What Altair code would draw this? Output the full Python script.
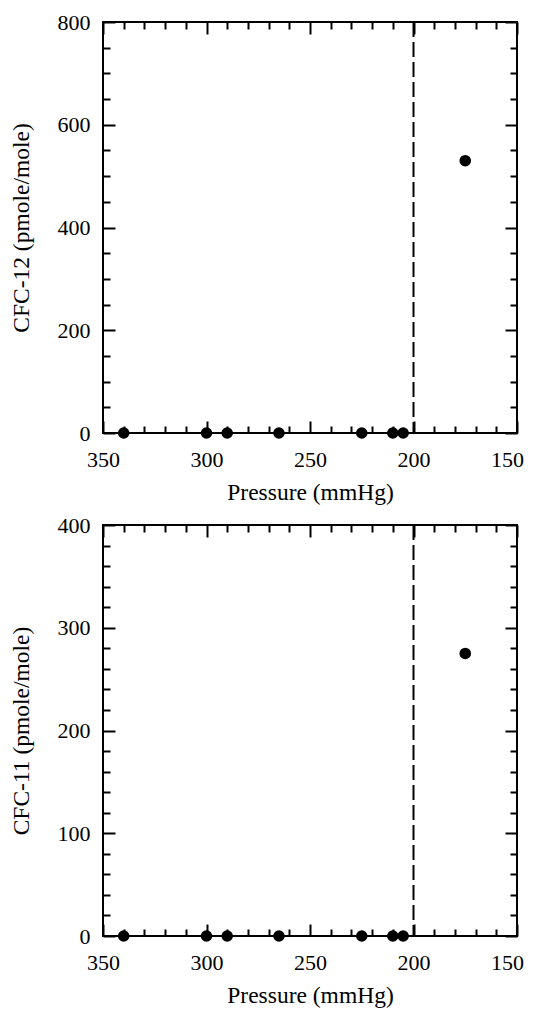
import altair as alt
import pandas as pd

# ---- data ----
pressure = [340, 300, 290, 265, 225, 210, 205, 175]
cfc12 = [0, 0, 0, 0, 0, 0, 0, 530]
cfc11 = [0, 0, 0, 0, 0, 0, 0, 275]
boundary = [200]

x_tick_values = list(range(150, 351, 10))
x_label_values = [350, 300, 250, 200, 150]
y12_tick_values = list(range(0, 801, 50))
y12_label_values = [0, 200, 400, 600, 800]
y11_tick_values = list(range(0, 401, 20))
y11_label_values = [0, 100, 200, 300, 400]

W, H = 414, 411
FONT = "Liberation Serif"


def tick_size(major_every):
    return {"condition": {"test": f"datum.value % {major_every} === 0", "value": 12}, "value": 7}


def panel(values, ylabel, ydomain, ytick_vals, ylabel_vals, ymajor):
    df = pd.DataFrame({"p": pressure, "v": values})
    xs = alt.Scale(domain=[150, 350], reverse=True, nice=False, zero=False, padding=0)
    ys = alt.Scale(domain=ydomain, nice=False, zero=False, padding=0)
    base = alt.Chart(df)

    tick_axis = dict(labels=False, domain=False, grid=False, tickWidth=2, tickColor="black")

    ghost_a = base.mark_circle(opacity=0).encode(
        x=alt.X("p:Q", scale=xs, title=None,
                axis=alt.Axis(orient="top", offset=-H, values=x_tick_values,
                              tickSize=tick_size(50), **tick_axis)),
        y=alt.Y("v:Q", scale=ys, title=None,
                axis=alt.Axis(orient="right", offset=-W, values=ytick_vals,
                              tickSize=tick_size(ymajor), **tick_axis)),
    )
    ghost_b = base.mark_circle(opacity=0).encode(
        x=alt.X("p:Q", scale=xs, title=None,
                axis=alt.Axis(orient="bottom", offset=-H, values=x_tick_values,
                              tickSize=tick_size(50), **tick_axis)),
        y=alt.Y("v:Q", scale=ys, title=None,
                axis=alt.Axis(orient="left", offset=-W, values=ytick_vals,
                              tickSize=tick_size(ymajor), **tick_axis)),
    )
    rule = alt.Chart(pd.DataFrame({"b": boundary})).mark_rule(
        strokeDash=[15, 5], strokeWidth=2, color="black"
    ).encode(x=alt.X("b:Q", scale=xs, axis=None))

    pts = base.mark_circle(size=135, color="black", opacity=1).encode(
        x=alt.X("p:Q", scale=xs, title="Pressure (mmHg)",
                axis=alt.Axis(orient="bottom", values=x_label_values, ticks=False,
                              domain=False, grid=False, labelPadding=16, titlePadding=10,
                              labelFlush=False, labelOverlap=False, format="d",
                              labelOffset={"condition": {"test": "datum.value === 150", "value": -10},
                                           "value": 0})),
        y=alt.Y("v:Q", scale=ys, title=ylabel,
                axis=alt.Axis(orient="left", values=ylabel_vals, ticks=False,
                              domain=False, grid=False, labelPadding=13, titlePadding=24,
                              labelFlush=False, labelOverlap=False, format="d")),
    )

    return alt.layer(ghost_a, ghost_b, rule, pts).resolve_axis(
        x="independent", y="independent"
    ).properties(width=W, height=H)


top = panel(cfc12, "CFC-12 (pmole/mole)", [0, 800], y12_tick_values, y12_label_values, 200)
bottom = panel(cfc11, "CFC-11 (pmole/mole)", [0, 400], y11_tick_values, y11_label_values, 100)

chart = alt.vconcat(top, bottom, spacing=8).configure_view(
    stroke="black", strokeWidth=2
).configure_axis(
    labelFont=FONT, labelFontSize=22, labelColor="black",
    titleFont=FONT, titleFontSize=23.5, titleFontWeight="normal", titleColor="black",
    grid=False,
).properties(background="white", padding={"left": 0, "top": 2, "right": 0, "bottom": 0})

chart.save("out.html", embed_options={"renderer": "svg", "actions": False})
